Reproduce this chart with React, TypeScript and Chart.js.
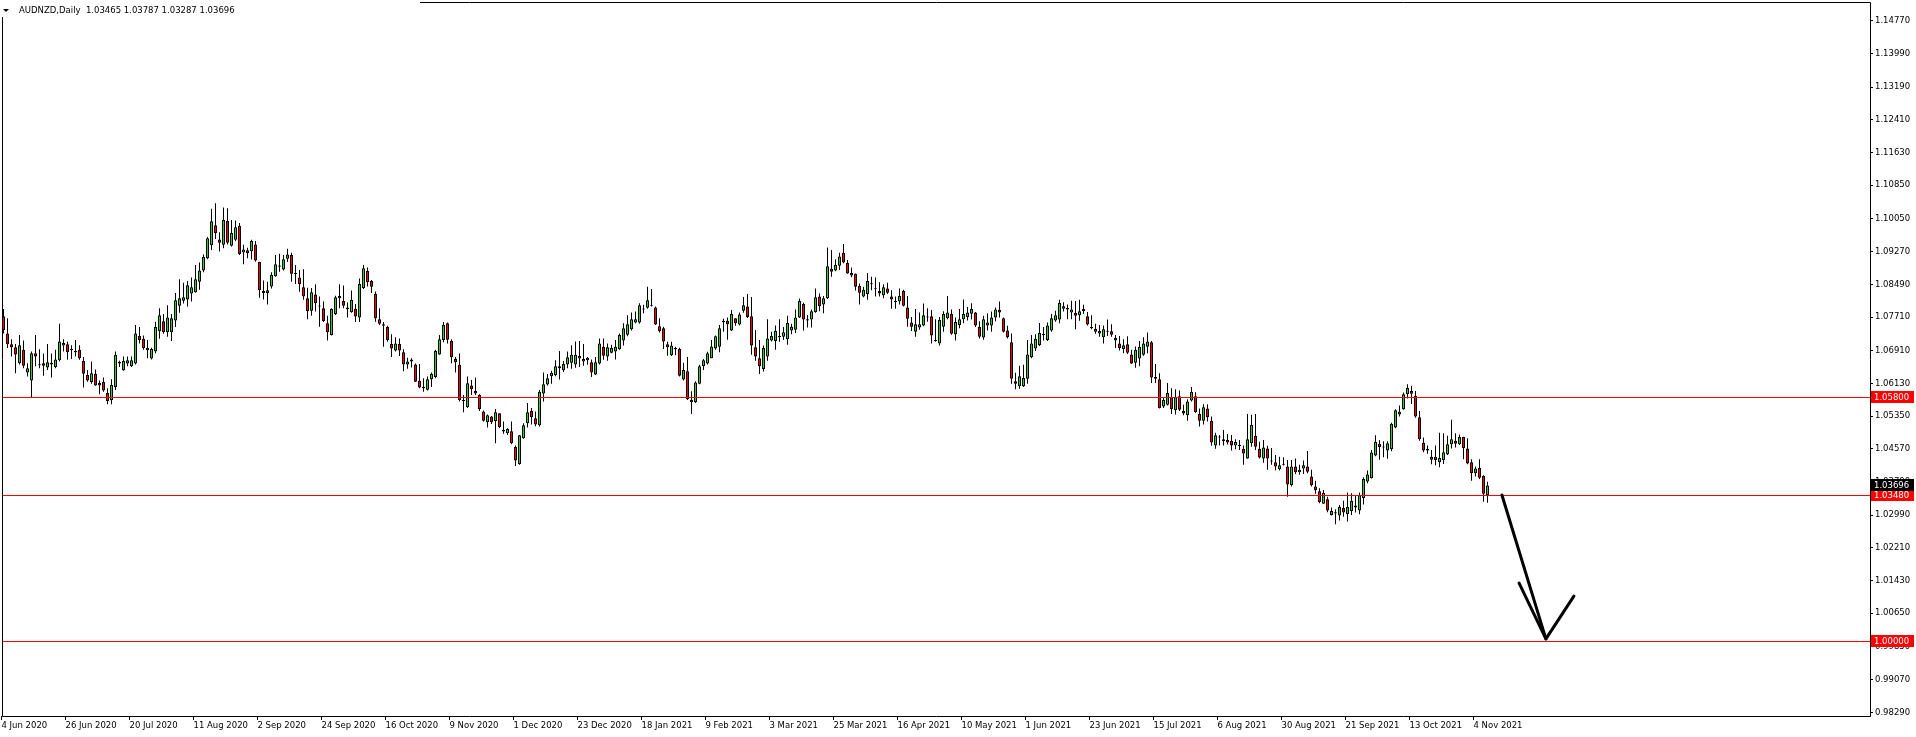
import React, { useEffect, useRef } from 'react';
import { Chart, registerables } from 'chart.js';

Chart.register(...registerables);

// ---------- data ----------
const titleSymbol = 'AUDNZD,Daily';
const titleQuote = '1.03465 1.03787 1.03287 1.03696';

const dateLabels = [
  '4 Jun 2020', '26 Jun 2020', '20 Jul 2020', '11 Aug 2020', '2 Sep 2020', '24 Sep 2020',
  '16 Oct 2020', '9 Nov 2020', '1 Dec 2020', '23 Dec 2020', '18 Jan 2021', '9 Feb 2021',
  '3 Mar 2021', '25 Mar 2021', '16 Apr 2021', '10 May 2021', '1 Jun 2021', '23 Jun 2021',
  '15 Jul 2021', '6 Aug 2021', '30 Aug 2021', '21 Sep 2021', '13 Oct 2021', '4 Nov 2021',
];
const barsPerDateLabel = 16;

const priceTicks = [
  1.1477, 1.1399, 1.1319, 1.1241, 1.1163, 1.1085, 1.1005, 1.0927, 1.0849, 1.0771, 1.0691,
  1.0613, 1.0535, 1.0457, 1.0379, 1.0299, 1.0221, 1.0143, 1.0065, 0.9985, 0.9907, 0.9829,
];
const priceAxisMax = 1.15218;
const priceAxisMin = 0.98202;
const barAxisMin = -0.375;
const barAxisMax = 466.625;

const levelPrices = [1.058, 1.0348, 1.0];
const lastPrice = 1.03696;

// drawn arrow (bar index, price)
const arrowShaft = [
  { x: 374.6, y: 1.0347 },
  { x: 385.6, y: 1.0004 },
];
const arrowHead = [
  { x: 378.9, y: 1.0137 },
  { x: 385.6, y: 1.0004 },
  { x: 392.6, y: 1.0106 },
];

const opens = [
  1.0773, 1.0732, 1.0706, 1.0699, 1.0661, 1.0693, 1.0639, 1.0620, 1.0685, 1.0657,
  1.0661, 1.0651, 1.0658, 1.0652, 1.0668, 1.0703, 1.0706, 1.0695, 1.0690, 1.0693,
  1.0666, 1.0633, 1.0616, 1.0635, 1.0614, 1.0616, 1.0590, 1.0573, 1.0604, 1.0660,
  1.0644, 1.0660, 1.0654, 1.0660, 1.0726, 1.0719, 1.0697, 1.0672, 1.0689, 1.0737,
  1.0761, 1.0735, 1.0735, 1.0763, 1.0798, 1.0810, 1.0813, 1.0827, 1.0830, 1.0855,
  1.0882, 1.0911, 1.0942, 1.0990, 1.0956, 1.0943, 1.1000, 1.0941, 1.0955, 1.0988,
  1.0925, 1.0930, 1.0928, 1.0944, 1.0902, 1.0828, 1.0828, 1.0844, 1.0868, 1.0891,
  1.0884, 1.0910, 1.0919, 1.0876, 1.0865,
  1.0842, 1.0816, 1.0786, 1.0825, 1.0798,
  1.0792, 1.0756, 1.0728, 1.0778, 1.0816, 1.0809, 1.0794, 1.0783, 1.0790, 1.0770,
  1.0840, 1.0881, 1.0857, 1.0826, 1.0766, 1.0754, 1.0747, 1.0707, 1.0691, 1.0707,
  1.0687, 1.0658, 1.0670, 1.0658, 1.0619, 1.0605, 1.0598, 1.0623, 1.0628, 1.0682,
  1.0716, 1.0756, 1.0714, 1.0671, 1.0657, 1.0573, 1.0556, 1.0608, 1.0595, 1.0585,
  1.0546, 1.0520, 1.0534, 1.0523, 1.0542, 1.0498, 1.0494, 1.0499, 1.0461, 1.0421,
  1.0482, 1.0518, 1.0547, 1.0530, 1.0513, 1.0589, 1.0610, 1.0630, 1.0632, 1.0654,
  1.0644, 1.0658, 1.0662, 1.0658, 1.0672, 1.0665, 1.0668, 1.0663, 1.0634,
  1.0660, 1.0700, 1.0677, 1.0686, 1.0689, 1.0694, 1.0715, 1.0729, 1.0742, 1.0758, 1.0758,
  1.0789, 1.0793, 1.0799, 1.0794, 1.0749, 1.0744, 1.0706, 1.0680, 1.0697, 1.0695,
  1.0622, 1.0642, 1.0574, 1.0568, 1.0612, 1.0654, 1.0660, 1.0673, 1.0696, 1.0700,
  1.0762, 1.0762, 1.0739, 1.0768, 1.0753, 1.0786, 1.0796, 1.0773, 1.0699, 1.0673,
  1.0647, 1.0677, 1.0715, 1.0714, 1.0726, 1.0724, 1.0718, 1.0739, 1.0741, 1.0770,
  1.0802, 1.0766, 1.0765, 1.0783, 1.0820, 1.0801, 1.0816, 1.0886, 1.0882, 1.0893,
  1.0924, 1.0900, 1.0876, 1.0874, 1.0845, 1.0820, 1.0826, 1.0849, 1.0837, 1.0833,
  1.0823, 1.0839, 1.0820, 1.0808,
  1.0808, 1.0833, 1.0794, 1.0758, 1.0736, 1.0746,
  1.0751, 1.0770, 1.0773, 1.0714, 1.0708, 1.0748, 1.0768, 1.0778, 1.0730, 1.0752,
  1.0766, 1.0771, 1.0779, 1.0782, 1.0747, 1.0722, 1.0751, 1.0751, 1.0770, 1.0788,
  1.0768, 1.0739, 1.0711, 1.0618, 1.0606, 1.0606, 1.0624, 1.0675, 1.0696, 1.0704,
  1.0728, 1.0716, 1.0739, 1.0763, 1.0765, 1.0791, 1.0789, 1.0782, 1.0781, 1.0775,
  1.0790, 1.0773, 1.0747, 1.0743, 1.0732, 1.0723, 1.0736, 1.0737, 1.0721, 1.0708,
  1.0695, 1.0706, 1.0682, 1.0662, 1.0672, 1.0681, 1.0700, 1.0711, 1.0628, 1.0623,
  1.0558, 1.0562, 1.0580, 1.0549, 1.0582, 1.0547, 1.0537, 1.0572, 1.0582,
  1.0540, 1.0524, 1.0553, 1.0523, 1.0465, 1.0484, 1.0475, 1.0478, 1.0476, 1.0465, 1.0466,
  1.0457, 1.0434, 1.0471, 1.0488, 1.0457, 1.0434, 1.0458, 1.0427, 1.0425, 1.0408,
  1.0419, 1.0415, 1.0371, 1.0415, 1.0401, 1.0410, 1.0415, 1.0391, 1.0367, 1.0356,
  1.0326, 1.0337, 1.0299, 1.0303, 1.0298, 1.0316, 1.0301, 1.0309, 1.0317, 1.0310,
  1.0340, 1.0379, 1.0387, 1.0441, 1.0469, 1.0460, 1.0453, 1.0456, 1.0508, 1.0539,
  1.0551, 1.0587, 1.0595, 1.0583, 1.0532, 1.0471, 1.0457, 1.0438, 1.0438, 1.0425,
  1.0430, 1.0444, 1.0468, 1.0476, 1.0468, 1.0485, 1.0458, 1.0425, 1.0399, 1.0411,
  1.0392, 1.03465,
];

const highs = [
  1.0790, 1.0768, 1.0718, 1.0707, 1.0728, 1.0715, 1.0661, 1.0689, 1.0728, 1.0694,
  1.0684, 1.0707, 1.0684, 1.0693, 1.0755, 1.0718, 1.0712, 1.0704, 1.0716, 1.0704,
  1.0676, 1.0645, 1.0665, 1.0646, 1.0620, 1.0627, 1.0601, 1.0623, 1.0689, 1.0667,
  1.0677, 1.0677, 1.0677, 1.0752, 1.0747, 1.0727, 1.0716, 1.0698, 1.0760, 1.0792,
  1.0778, 1.0799, 1.0778, 1.0828, 1.0861, 1.0853, 1.0857, 1.0865, 1.0895, 1.0901,
  1.0920, 1.0962, 1.1029, 1.1042, 1.0973, 1.1032, 1.1030, 1.1002, 1.1001, 1.0995,
  1.0943, 1.0936, 1.0955, 1.0952, 1.0903, 1.0858, 1.0855, 1.0878, 1.0919, 1.0922,
  1.0919, 1.0934, 1.0924, 1.0895, 1.0883,
  1.0885, 1.0841, 1.0840, 1.0849, 1.0820,
  1.0808, 1.0774, 1.0792, 1.0822, 1.0849, 1.0846, 1.0806, 1.0834, 1.0802, 1.0863,
  1.0895, 1.0889, 1.0859, 1.0832, 1.0792, 1.0759, 1.0750, 1.0730, 1.0723, 1.0720,
  1.0694, 1.0674, 1.0673, 1.0660, 1.0659, 1.0625, 1.0629, 1.0639, 1.0693, 1.0728,
  1.0759, 1.0758, 1.0718, 1.0676, 1.0684, 1.0585, 1.0629, 1.0621, 1.0627, 1.0587,
  1.0548, 1.0539, 1.0535, 1.0552, 1.0542, 1.0522, 1.0506, 1.0522, 1.0465, 1.0490,
  1.0518, 1.0566, 1.0554, 1.0546, 1.0597, 1.0639, 1.0635, 1.0643, 1.0668, 1.0690,
  1.0666, 1.0689, 1.0704, 1.0713, 1.0714, 1.0707, 1.0676, 1.0670, 1.0676,
  1.0720, 1.0720, 1.0708, 1.0705, 1.0716, 1.0732, 1.0756, 1.0775, 1.0782, 1.0784, 1.0804,
  1.0800, 1.0843, 1.0838, 1.0796, 1.0768, 1.0748, 1.0712, 1.0712, 1.0700, 1.0698,
  1.0662, 1.0676, 1.0594, 1.0618, 1.0657, 1.0671, 1.0688, 1.0716, 1.0727, 1.0752,
  1.0767, 1.0770, 1.0788, 1.0768, 1.0782, 1.0819, 1.0826, 1.0819, 1.0740, 1.0716,
  1.0703, 1.0766, 1.0736, 1.0751, 1.0766, 1.0747, 1.0774, 1.0755, 1.0789, 1.0815,
  1.0805, 1.0776, 1.0789, 1.0839, 1.0827, 1.0821, 1.0937, 1.0931, 1.0909, 1.0924,
  1.0945, 1.0907, 1.0889, 1.0875, 1.0851, 1.0843, 1.0876, 1.0867, 1.0865, 1.0854,
  1.0849, 1.0853, 1.0835, 1.0820,
  1.0839, 1.0836, 1.0821, 1.0771, 1.0790, 1.0782,
  1.0803, 1.0792, 1.0788, 1.0766, 1.0771, 1.0785, 1.0821, 1.0789, 1.0770, 1.0790,
  1.0813, 1.0795, 1.0804, 1.0783, 1.0761, 1.0774, 1.0780, 1.0784, 1.0794, 1.0808,
  1.0770, 1.0750, 1.0732, 1.0638, 1.0655, 1.0657, 1.0716, 1.0728, 1.0730, 1.0757,
  1.0747, 1.0758, 1.0778, 1.0786, 1.0812, 1.0806, 1.0801, 1.0810, 1.0809, 1.0812,
  1.0800, 1.0783, 1.0775, 1.0755, 1.0752, 1.0751, 1.0765, 1.0754, 1.0728, 1.0726,
  1.0718, 1.0725, 1.0693, 1.0701, 1.0714, 1.0723, 1.0734, 1.0714, 1.0659, 1.0637,
  1.0579, 1.0614, 1.0601, 1.0599, 1.0596, 1.0562, 1.0575, 1.0604, 1.0592,
  1.0553, 1.0563, 1.0563, 1.0534, 1.0495, 1.0490, 1.0502, 1.0492, 1.0490, 1.0480, 1.0478,
  1.0465, 1.0540, 1.0538, 1.0540, 1.0474, 1.0478, 1.0464, 1.0459, 1.0442, 1.0438,
  1.0437, 1.0430, 1.0430, 1.0434, 1.0419, 1.0429, 1.0452, 1.0407, 1.0381, 1.0363,
  1.0359, 1.0343, 1.0317, 1.0313, 1.0323, 1.0333, 1.0353, 1.0351, 1.0347, 1.0353,
  1.0389, 1.0405, 1.0454, 1.0489, 1.0478, 1.0475, 1.0475, 1.0519, 1.0551, 1.0560,
  1.0591, 1.0611, 1.0607, 1.0595, 1.0547, 1.0484, 1.0465, 1.0454, 1.0465, 1.0495,
  1.0494, 1.0488, 1.0526, 1.0494, 1.0491, 1.0486, 1.0482, 1.0432, 1.0415, 1.0432,
  1.0394, 1.03787,
];

const lows = [
  1.0732, 1.0697, 1.0677, 1.0637, 1.0658, 1.0649, 1.0629, 1.0580, 1.0654, 1.0649,
  1.0631, 1.0645, 1.0627, 1.0649, 1.0665, 1.0689, 1.0669, 1.0671, 1.0677, 1.0669,
  1.0603, 1.0617, 1.0612, 1.0607, 1.0587, 1.0593, 1.0563, 1.0563, 1.0597, 1.0652,
  1.0643, 1.0654, 1.0652, 1.0658, 1.0708, 1.0693, 1.0673, 1.0670, 1.0685, 1.0719,
  1.0731, 1.0724, 1.0714, 1.0747, 1.0781, 1.0803, 1.0796, 1.0808, 1.0829, 1.0836,
  1.0878, 1.0909, 1.0931, 1.0957, 1.0927, 1.0935, 1.0944, 1.0939, 1.0952, 1.0919,
  1.0897, 1.0911, 1.0908, 1.0903, 1.0817, 1.0813, 1.0801, 1.0839, 1.0867, 1.0879,
  1.0882, 1.0902, 1.0855, 1.0850, 1.0831,
  1.0812, 1.0766, 1.0774, 1.0784, 1.0748,
  1.0759, 1.0715, 1.0727, 1.0776, 1.0792, 1.0792, 1.0770, 1.0781, 1.0759, 1.0759,
  1.0838, 1.0844, 1.0828, 1.0760, 1.0752, 1.0700, 1.0712, 1.0676, 1.0689, 1.0678,
  1.0642, 1.0648, 1.0651, 1.0616, 1.0601, 1.0593, 1.0596, 1.0604, 1.0625, 1.0681,
  1.0711, 1.0708, 1.0661, 1.0639, 1.0570, 1.0544, 1.0554, 1.0585, 1.0585, 1.0547,
  1.0522, 1.0508, 1.0516, 1.0470, 1.0506, 1.0493, 1.0490, 1.0468, 1.0416, 1.0419,
  1.0481, 1.0508, 1.0515, 1.0511, 1.0510, 1.0570, 1.0608, 1.0612, 1.0630, 1.0622,
  1.0640, 1.0649, 1.0648, 1.0650, 1.0652, 1.0655, 1.0657, 1.0628, 1.0633,
  1.0658, 1.0669, 1.0667, 1.0685, 1.0670, 1.0693, 1.0703, 1.0725, 1.0739, 1.0756, 1.0755,
  1.0780, 1.0791, 1.0796, 1.0752, 1.0734, 1.0695, 1.0679, 1.0678, 1.0680, 1.0629,
  1.0620, 1.0573, 1.0540, 1.0566, 1.0611, 1.0645, 1.0658, 1.0673, 1.0693, 1.0687,
  1.0736, 1.0717, 1.0738, 1.0750, 1.0751, 1.0781, 1.0769, 1.0681, 1.0667, 1.0635,
  1.0641, 1.0667, 1.0713, 1.0693, 1.0712, 1.0716, 1.0705, 1.0730, 1.0733, 1.0769,
  1.0739, 1.0746, 1.0746, 1.0781, 1.0785, 1.0780, 1.0814, 1.0867, 1.0880, 1.0883,
  1.0899, 1.0874, 1.0866, 1.0834, 1.0801, 1.0818, 1.0812, 1.0835, 1.0820, 1.0820,
  1.0816, 1.0826, 1.0791, 1.0791,
  1.0801, 1.0796, 1.0748, 1.0738, 1.0724, 1.0741,
  1.0749, 1.0760, 1.0708, 1.0712, 1.0703, 1.0736, 1.0766, 1.0729, 1.0715, 1.0744,
  1.0756, 1.0763, 1.0765, 1.0747, 1.0720, 1.0717, 1.0739, 1.0736, 1.0761, 1.0770,
  1.0734, 1.0720, 1.0612, 1.0599, 1.0600, 1.0604, 1.0612, 1.0673, 1.0690, 1.0702,
  1.0715, 1.0714, 1.0736, 1.0760, 1.0756, 1.0784, 1.0766, 1.0766, 1.0742, 1.0762,
  1.0778, 1.0751, 1.0742, 1.0731, 1.0724, 1.0708, 1.0726, 1.0724, 1.0697, 1.0691,
  1.0685, 1.0683, 1.0659, 1.0650, 1.0654, 1.0679, 1.0685, 1.0614, 1.0614, 1.0553,
  1.0554, 1.0560, 1.0540, 1.0539, 1.0547, 1.0537, 1.0524, 1.0570, 1.0543,
  1.0510, 1.0515, 1.0522, 1.0464, 1.0457, 1.0465, 1.0465, 1.0467, 1.0453, 1.0456, 1.0454,
  1.0419, 1.0433, 1.0462, 1.0454, 1.0434, 1.0424, 1.0407, 1.0419, 1.0406, 1.0405,
  1.0417, 1.0343, 1.0367, 1.0397, 1.0395, 1.0397, 1.0399, 1.0367, 1.0350, 1.0327,
  1.0326, 1.0306, 1.0298, 1.0277, 1.0286, 1.0295, 1.0284, 1.0299, 1.0305, 1.0301,
  1.0324, 1.0375, 1.0386, 1.0439, 1.0431, 1.0437, 1.0433, 1.0451, 1.0506, 1.0534,
  1.0550, 1.0577, 1.0564, 1.0531, 1.0476, 1.0449, 1.0445, 1.0420, 1.0418, 1.0413,
  1.0421, 1.0442, 1.0458, 1.0460, 1.0466, 1.0432, 1.0420, 1.0381, 1.0391, 1.0385,
  1.0331, 1.03287,
];

const closes = [
  1.0740, 1.0706, 1.0699, 1.0682, 1.0704, 1.0655, 1.0649, 1.0685, 1.0677, 1.0656,
  1.0655, 1.0663, 1.0662, 1.0670, 1.0713, 1.0709, 1.0687, 1.0692, 1.0687, 1.0673,
  1.0636, 1.0620, 1.0637, 1.0608, 1.0608, 1.0596, 1.0571, 1.0609, 1.0681, 1.0664,
  1.0666, 1.0668, 1.0668, 1.0732, 1.0716, 1.0697, 1.0692, 1.0695, 1.0747, 1.0775,
  1.0735, 1.0770, 1.0768, 1.0811, 1.0816, 1.0818, 1.0847, 1.0842, 1.0861, 1.0882,
  1.0914, 1.0959, 1.0999, 1.0971, 1.0948, 1.1002, 1.0948, 1.0971, 1.0985, 1.0921,
  1.0932, 1.0923, 1.0952, 1.0906, 1.0835, 1.0833, 1.0835, 1.0871, 1.0897, 1.0894,
  1.0909, 1.0920, 1.0874, 1.0873, 1.0849,
  1.0820, 1.0785, 1.0830, 1.0804, 1.0796,
  1.0761, 1.0735, 1.0790, 1.0818, 1.0821, 1.0798, 1.0790, 1.0812, 1.0772, 1.0850,
  1.0887, 1.0854, 1.0843, 1.0768, 1.0755, 1.0750, 1.0716, 1.0696, 1.0708, 1.0691,
  1.0658, 1.0665, 1.0665, 1.0617, 1.0603, 1.0601, 1.0623, 1.0635, 1.0690, 1.0718,
  1.0752, 1.0717, 1.0675, 1.0663, 1.0573, 1.0571, 1.0613, 1.0599, 1.0589, 1.0551,
  1.0524, 1.0537, 1.0520, 1.0544, 1.0509, 1.0502, 1.0504, 1.0470, 1.0429, 1.0489,
  1.0513, 1.0544, 1.0532, 1.0515, 1.0593, 1.0611, 1.0625, 1.0638, 1.0654, 1.0649,
  1.0659, 1.0675, 1.0681, 1.0681, 1.0678, 1.0671, 1.0674, 1.0639, 1.0663,
  1.0708, 1.0679, 1.0699, 1.0697, 1.0700, 1.0728, 1.0744, 1.0754, 1.0766, 1.0766, 1.0799,
  1.0790, 1.0811, 1.0798, 1.0753, 1.0737, 1.0713, 1.0699, 1.0703, 1.0694, 1.0631,
  1.0645, 1.0575, 1.0568, 1.0615, 1.0654, 1.0668, 1.0685, 1.0701, 1.0725, 1.0744,
  1.0759, 1.0754, 1.0778, 1.0756, 1.0777, 1.0799, 1.0771, 1.0703, 1.0677, 1.0654,
  1.0697, 1.0720, 1.0726, 1.0738, 1.0723, 1.0735, 1.0757, 1.0748, 1.0770, 1.0809,
  1.0765, 1.0763, 1.0785, 1.0818, 1.0797, 1.0816, 1.0892, 1.0879, 1.0895, 1.0915,
  1.0901, 1.0875, 1.0870, 1.0843, 1.0829, 1.0836, 1.0857, 1.0850, 1.0838, 1.0827,
  1.0842, 1.0829, 1.0813, 1.0807,
  1.0821, 1.0798, 1.0767, 1.0748, 1.0754, 1.0754,
  1.0775, 1.0771, 1.0727, 1.0715, 1.0764, 1.0778, 1.0782, 1.0731, 1.0759, 1.0766,
  1.0778, 1.0782, 1.0790, 1.0751, 1.0724, 1.0766, 1.0758, 1.0770, 1.0789, 1.0782,
  1.0736, 1.0723, 1.0624, 1.0612, 1.0630, 1.0626, 1.0682, 1.0708, 1.0719, 1.0733,
  1.0729, 1.0751, 1.0768, 1.0775, 1.0805, 1.0797, 1.0793, 1.0789, 1.0774, 1.0785,
  1.0785, 1.0753, 1.0744, 1.0736, 1.0738, 1.0742, 1.0737, 1.0729, 1.0715, 1.0697,
  1.0704, 1.0686, 1.0660, 1.0693, 1.0700, 1.0708, 1.0713, 1.0627, 1.0624, 1.0554,
  1.0573, 1.0590, 1.0551, 1.0580, 1.0550, 1.0541, 1.0570, 1.0593, 1.0544,
  1.0524, 1.0556, 1.0532, 1.0472, 1.0489, 1.0486, 1.0480, 1.0472, 1.0465, 1.0473, 1.0463,
  1.0446, 1.0480, 1.0514, 1.0462, 1.0436, 1.0460, 1.0434, 1.0428, 1.0415, 1.0418,
  1.0421, 1.0372, 1.0415, 1.0401, 1.0407, 1.0418, 1.0402, 1.0370, 1.0358, 1.0330,
  1.0352, 1.0310, 1.0309, 1.0306, 1.0318, 1.0305, 1.0318, 1.0333, 1.0322, 1.0346,
  1.0385, 1.0396, 1.0448, 1.0473, 1.0461, 1.0461, 1.0470, 1.0516, 1.0549, 1.0545,
  1.0587, 1.0602, 1.0588, 1.0534, 1.0480, 1.0453, 1.0453, 1.0431, 1.0430, 1.0435,
  1.0449, 1.0468, 1.0480, 1.0469, 1.0485, 1.0459, 1.0422, 1.0399, 1.0410, 1.0388,
  1.0350, 1.03696,
];

// ---------- styles ----------
const BULL = '#32cd32';
const BEAR = '#ff0000';
const LEVEL = '#ff0000';
const FONT = '"DejaVu Sans", Verdana, sans-serif';
const FONT_SIZE = 8.5;

const mt4Plugin = {
  id: 'mt4Overlay',
  beforeDraw(chart: any) {
    const ctx = chart.ctx;
    ctx.save();
    ctx.fillStyle = '#ffffff';
    ctx.fillRect(0, 0, chart.width, chart.height);
    ctx.restore();
  },
  afterDatasetsDraw(chart: any) {
    const { ctx, chartArea: a } = chart;
    const xs = chart.scales.x;
    const ys = chart.scales.y;
    ctx.save();
    // horizontal levels
    ctx.strokeStyle = LEVEL;
    ctx.lineWidth = 1;
    levelPrices.forEach((p) => {
      const py = Math.round(ys.getPixelForValue(p)) + 0.5;
      ctx.beginPath();
      ctx.moveTo(a.left, py);
      ctx.lineTo(a.right, py);
      ctx.stroke();
    });
    // arrow
    ctx.strokeStyle = '#000';
    ctx.lineWidth = 3;
    ctx.lineCap = 'round';
    ctx.lineJoin = 'round';
    [arrowShaft, arrowHead].forEach((pts) => {
      ctx.beginPath();
      pts.forEach((pt, i) => {
        const px = xs.getPixelForValue(pt.x);
        const py = ys.getPixelForValue(pt.y);
        if (i === 0) ctx.moveTo(px, py);
        else ctx.lineTo(px, py);
      });
      ctx.stroke();
    });
    // frame
    ctx.lineWidth = 1;
    ctx.lineCap = 'butt';
    ctx.strokeStyle = '#000';
    ctx.strokeRect(a.left + 0.5, a.top + 0.5, a.right - a.left, a.bottom - a.top);
    ctx.restore();
  },
  afterDraw(chart: any) {
    const { ctx, chartArea: a } = chart;
    const ys = chart.scales.y;
    ctx.save();
    ctx.font = `${FONT_SIZE}px ${FONT}`;
    ctx.textBaseline = 'middle';
    ctx.textAlign = 'left';
    const tag = (price: number, bg: string) => {
      const py = Math.round(ys.getPixelForValue(price));
      ctx.fillStyle = bg;
      ctx.fillRect(a.right + 1, py - 6, 43, 12);
      ctx.fillStyle = '#ffffff';
      ctx.fillText(price.toFixed(5), a.right + 4, py + 0.5);
    };
    levelPrices.forEach((p) => tag(p, LEVEL));
    tag(lastPrice, '#000000');
    // title area
    ctx.fillStyle = '#ffffff';
    ctx.fillRect(0, 0, 420, 17);
    ctx.fillStyle = '#000';
    ctx.beginPath();
    ctx.moveTo(3, 9);
    ctx.lineTo(9, 9);
    ctx.lineTo(6, 12);
    ctx.closePath();
    ctx.fill();
    ctx.fillText(`${titleSymbol}  ${titleQuote}`, 19, 11);
    ctx.restore();
  },
};

export default function App() {
  const canvasRef = useRef<HTMLCanvasElement | null>(null);

  useEffect(() => {
    const canvas = canvasRef.current;
    if (!canvas) return;
    const n = Math.min(opens.length, highs.length, lows.length, closes.length);
    const idx = Array.from({ length: n }, (_, i) => i);
    const bodyColors = idx.map((i) => (closes[i] >= opens[i] ? BULL : BEAR));

    const chart = new Chart(canvas, {
      type: 'bar',
      data: {
        datasets: [
          {
            label: 'wick',
            data: idx.map((i) => ({ x: i, y: [lows[i], highs[i]] })) as any,
            backgroundColor: '#000000',
            borderWidth: 0,
            barThickness: 1,
            grouped: false,
            inflateAmount: 0,
            order: 2,
          } as any,
          {
            label: 'body',
            data: idx.map((i) => ({ x: i, y: [opens[i], closes[i]] })) as any,
            backgroundColor: bodyColors,
            borderColor: '#000000',
            borderWidth: 1,
            borderSkipped: false,
            barThickness: 3,
            minBarLength: 1,
            grouped: false,
            inflateAmount: 0,
            order: 1,
          } as any,
        ],
      },
      options: {
        animation: false,
        responsive: false,
        devicePixelRatio: 1,
        events: [],
        layout: { padding: { left: 2, top: 2, right: 0, bottom: 0 } },
        plugins: {
          legend: { display: false },
          tooltip: { enabled: false },
        },
        scales: {
          x: {
            type: 'linear',
            min: barAxisMin,
            max: barAxisMax,
            offset: false,
            bounds: 'data',
            grid: { display: true, drawOnChartArea: false, drawTicks: true, tickLength: 4, color: '#000', offset: false },
            border: { display: false },
            afterBuildTicks: (s: any) => {
              s.ticks = dateLabels.map((_, i) => ({ value: i * barsPerDateLabel - 0.5 }));
            },
            afterFit: (s: any) => {
              s.height = 21;
              s.paddingLeft = 0;
              s.paddingRight = 0;
            },
            ticks: {
              autoSkip: false,
              maxRotation: 0,
              minRotation: 0,
              align: 'start',
              labelOffset: 0,
              padding: 1,
              color: '#000',
              font: { family: FONT, size: FONT_SIZE },
              callback: (_v: any, i: number) => dateLabels[i] ?? '',
            },
          } as any,
          y: {
            type: 'linear',
            position: 'right',
            min: priceAxisMin,
            max: priceAxisMax,
            bounds: 'data',
            beginAtZero: false,
            grid: { display: true, drawOnChartArea: false, drawTicks: true, tickLength: 3, color: '#000' },
            border: { display: false },
            afterBuildTicks: (s: any) => {
              s.ticks = priceTicks.map((v) => ({ value: v }));
            },
            afterFit: (s: any) => {
              s.width = 46;
              s.paddingTop = 0;
              s.paddingBottom = 0;
            },
            ticks: {
              autoSkip: false,
              padding: 2,
              color: '#000',
              font: { family: FONT, size: FONT_SIZE },
              callback: (v: any) => Number(v).toFixed(5),
            },
          } as any,
        },
      },
      plugins: [mt4Plugin],
    } as any);

    return () => chart.destroy();
  }, []);

  return (
    <div style={{ position: 'fixed', left: 0, top: 0, width: 1916, height: 737, background: '#fff' }}>
      <canvas ref={canvasRef} width={1916} height={737} style={{ display: 'block', width: 1916, height: 737 }} />
    </div>
  );
}
